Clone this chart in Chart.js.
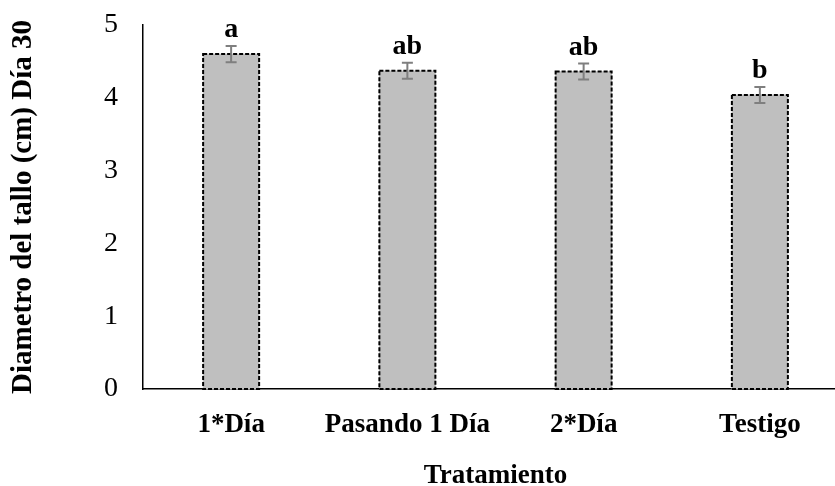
<!DOCTYPE html>
<html>
<head>
<meta charset="utf-8">
<script src="https://cdn.jsdelivr.net/npm/chart.js@4/dist/chart.umd.min.js"></script>
<style>
  html, body { margin: 0; padding: 0; background: #fff; overflow: hidden; }
  #wrap { width: 848px; height: 486px; position: relative; }
</style>
</head>
<body>
<div id="wrap"><canvas id="grafico"></canvas></div>
<script>
// Datos del gráfico
const categorias = ['1*Día', 'Pasando 1 Día', '2*Día', 'Testigo'];
const valores = [4.60, 4.37, 4.36, 4.04];
const errores = [0.11, 0.11, 0.11, 0.11];
const letras = ['a', 'ab', 'ab', 'b'];
const ticksY = [0, 1, 2, 3, 4, 5];

const serif = "'Liberation Serif', 'Times New Roman', serif";

// Plugin: bordes punteados, barras de error y letras
const extras = {
  id: 'extras',
  afterDatasetsDraw(chart) {
    const ctx = chart.ctx;
    const meta = chart.getDatasetMeta(0);
    const y = chart.scales.y;
    meta.data.forEach((bar, i) => {
      const left = bar.x - bar.width / 2;
      // borde punteado
      ctx.save();
      ctx.strokeStyle = '#000';
      ctx.lineWidth = 2;
      ctx.setLineDash([4, 2]);
      ctx.strokeRect(left, bar.y, bar.width, bar.base - bar.y);
      ctx.restore();

      // barra de error
      const yTop = y.getPixelForValue(valores[i] + errores[i]);
      const yBot = y.getPixelForValue(valores[i] - errores[i]);
      ctx.save();
      ctx.strokeStyle = '#7f7f7f';
      ctx.lineWidth = 2;
      ctx.beginPath();
      ctx.moveTo(bar.x, yTop); ctx.lineTo(bar.x, yBot);
      ctx.moveTo(bar.x - 5.5, yTop); ctx.lineTo(bar.x + 5.5, yTop);
      ctx.moveTo(bar.x - 5.5, yBot); ctx.lineTo(bar.x + 5.5, yBot);
      ctx.stroke();
      ctx.restore();

      // letra de significancia
      ctx.save();
      ctx.fillStyle = '#000';
      ctx.font = 'bold 28px ' + serif;
      ctx.textAlign = 'center';
      ctx.textBaseline = 'alphabetic';
      ctx.fillText(letras[i], bar.x, yTop - 9);
      ctx.restore();
    });
  }
};

new Chart(document.getElementById('grafico'), {
  type: 'bar',
  data: {
    labels: categorias,
    datasets: [{
      data: valores,
      backgroundColor: '#bfbfbf',
      borderWidth: 0,
      barThickness: 56
    }]
  },
  options: {
    responsive: true,
    maintainAspectRatio: false,
    animation: false,
    layout: { padding: { top: 25, right: 0, left: 0, bottom: 0 } },
    plugins: {
      legend: { display: false },
      tooltip: { enabled: false }
    },
    scales: {
      x: {
        grid: { display: false, drawTicks: false },
        border: { display: true, color: '#000', width: 1.5 },
        ticks: {
          color: '#000',
          padding: 20,
          font: { family: serif, size: 27, weight: 'bold' }
        },
        title: {
          display: true,
          text: 'Tratamiento',
          color: '#000',
          padding: { top: 0, bottom: 0 },
          font: { family: serif, size: 27, weight: 'bold', lineHeight: 0.72 }
        },
        afterFit(scale) { scale.height = 97; }
      },
      y: {
        min: 0,
        max: 5,
        afterBuildTicks(scale) { scale.ticks = ticksY.map(v => ({ value: v })); },
        grid: { display: false, drawTicks: false },
        border: { display: true, color: '#000', width: 1.5 },
        ticks: {
          color: '#000',
          padding: 25,
          font: { family: serif, size: 28 }
        },
        title: {
          display: true,
          text: 'Diametro del tallo (cm) Día 30',
          color: '#000',
          padding: { top: 6, bottom: 0 },
          font: { family: serif, size: 29, weight: 'bold', lineHeight: 1.2 }
        },
        afterFit(scale) {
          scale.width = 143;
          scale.paddingTop = 0;
          scale.paddingBottom = 0;
        }
      }
    }
  },
  plugins: [extras]
});
</script>
</body>
</html>
